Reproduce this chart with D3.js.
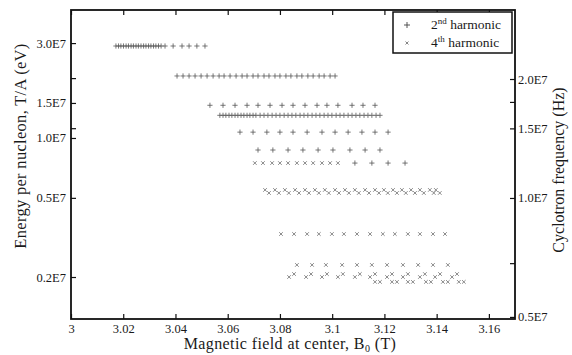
<!DOCTYPE html>
<html>
<head>
<meta charset="utf-8">
<script src="https://cdn.jsdelivr.net/npm/d3@7"></script>
<style>
  body { margin: 0; background: #fff; }
  text { font-family: "Liberation Serif", "DejaVu Serif", serif; fill: #1a1a1a; }
</style>
</head>
<body>
<div id="mydiv"></div>
<script>
// axis ticks
var xTicks = [3, 3.02, 3.04, 3.06, 3.08, 3.1, 3.12, 3.14, 3.16];
var xTickLabels = ["3", "3.02", "3.04", "3.06", "3.08", "3.1", "3.12", "3.14", "3.16"];
var energyTicks = [3.0e7, 1.5e7, 1.0e7, 0.5e7, 0.2e7];
var energyTickLabels = ["3.0E7", "1.5E7", "1.0E7", "0.5E7", "0.2E7"];
var energyMinorTicks = [2.0e7, 1.12e7];
var freqTicks = [2.0e7, 1.5e7, 1.0e7, 0.5e7];
var freqTickLabels = ["2.0E7", "1.5E7", "1.0E7", "0.5E7"];
var freqMinorTicks = [1.75e7, 0.684e7];

// 2nd harmonic rows (energy per nucleon, field values)
var row1E = 2.9e7;
var row1B = [3.0172, 3.0182, 3.0191, 3.0201, 3.0211, 3.0220, 3.0230, 3.0239, 3.0249, 3.0258,
  3.0268, 3.0278, 3.0287, 3.0297, 3.0306, 3.0316, 3.0325, 3.0335, 3.0345, 3.0360, 3.0391,
  3.0425, 3.0452, 3.0482, 3.0513];
var row2E = 2.05e7;
var row2B = [3.0406, 3.0429, 3.0452, 3.0475, 3.0498, 3.0521, 3.0544, 3.0567, 3.0586, 3.0609,
  3.0632, 3.0655, 3.0674, 3.0697, 3.0716, 3.0739, 3.0758, 3.0781, 3.0800, 3.0823, 3.0842,
  3.0865, 3.0884, 3.0907, 3.0927, 3.0950, 3.0969, 3.0992, 3.1011];
var row3E = 1.46e7;
var row3B = [3.0532, 3.0582, 3.0628, 3.0674, 3.0716, 3.0762, 3.0808, 3.0850, 3.0896, 3.0942,
  3.0980, 3.1022, 3.1076, 3.1118, 3.1164];
var row4E = 1.30e7;
var row4B = [3.0570, 3.0582, 3.0593, 3.0605, 3.0616, 3.0628, 3.0639, 3.0651, 3.0662, 3.0674,
  3.0685, 3.0697, 3.0708, 3.0724, 3.0739, 3.0754, 3.0770, 3.0785, 3.0800, 3.0816, 3.0831,
  3.0846, 3.0861, 3.0877, 3.0892, 3.0907, 3.0923, 3.0938, 3.0953, 3.0969, 3.0984, 3.0999,
  3.1015, 3.1030, 3.1045, 3.1061, 3.1076, 3.1091, 3.1106, 3.1122, 3.1137, 3.1152, 3.1168, 3.1183];
var row5E = 1.07e7;
var row5B = [3.0647, 3.0697, 3.0750, 3.0800, 3.0850, 3.0904, 3.0961, 3.1011, 3.1061, 3.1114,
  3.1164, 3.1214];
var row6E = 8.7e6;
var row6B = [3.0716, 3.0773, 3.0831, 3.0888, 3.0946, 3.1003, 3.1068, 3.1126, 3.1183];
var row7plusE = 7.48e6;
var row7plusB = [3.1087, 3.1152, 3.1214, 3.1279];

// 4th harmonic rows
var row7E = 7.48e6;
var row7B = [3.0704, 3.0735, 3.0770, 3.0800, 3.0831, 3.0865, 3.0896, 3.0927, 3.0961, 3.0992, 3.1022];
var row8aE = 5.48e6;
var row8aB = [3.0743, 3.0781, 3.0819, 3.0858, 3.0896, 3.0934, 3.0972, 3.1011, 3.1049, 3.1087,
  3.1126, 3.1164, 3.1198, 3.1233, 3.1267, 3.1302, 3.1336, 3.1374, 3.1397];
var row8bE = 5.29e6;
var row8bB = [3.0758, 3.0796, 3.0834, 3.0873, 3.0911, 3.0949, 3.0987, 3.1026, 3.1064, 3.1102,
  3.1141, 3.1179, 3.1213, 3.1248, 3.1282, 3.1317, 3.1351, 3.1389, 3.1412];
var row9E = 3.29e6;
var row9B = [3.0804, 3.0854, 3.0904, 3.0949, 3.0999, 3.1045, 3.1095, 3.1145, 3.1194, 3.1240,
  3.1290, 3.1336, 3.1386, 3.1432];
var row10E = 2.30e6;
var row10B = [3.0865, 3.0923, 3.0976, 3.1038, 3.1095, 3.1152, 3.1210, 3.1271, 3.1329, 3.1386, 3.1443];
var row11aE = 2.0e6;
var row11aB = [3.0835, 3.0900, 3.0961, 3.1022, 3.1087, 3.1145, 3.1210, 3.1271, 3.1336, 3.1394, 3.1459];
var row11bE = 2.07e6;
var row11bB = [3.0854, 3.0919, 3.0980, 3.1041, 3.1106, 3.1164, 3.1229, 3.1290, 3.1355, 3.1413, 3.1478];
var row12aE = 1.89e6;
var row12aB = [3.1164, 3.1229, 3.1290, 3.1359, 3.1424, 3.1485];
var row12bE = 1.89e6;
var row12bB = [3.1183, 3.1248, 3.1309, 3.1378, 3.1443, 3.1504];

function toPoints(e, bs) {
  return bs.map(function(b) { return {b: b, e: e}; });
}

var second = [].concat(
  toPoints(row1E, row1B), toPoints(row2E, row2B), toPoints(row3E, row3B),
  toPoints(row4E, row4B), toPoints(row5E, row5B), toPoints(row6E, row6B),
  toPoints(row7plusE, row7plusB));
var fourth = [].concat(
  toPoints(row7E, row7B), toPoints(row8aE, row8aB), toPoints(row8bE, row8bB),
  toPoints(row9E, row9B), toPoints(row10E, row10B), toPoints(row11aE, row11aB),
  toPoints(row11bE, row11bB), toPoints(row12aE, row12aB), toPoints(row12bE, row12bB));

var W = 572, H = 355;
var margin = {top: 10, right: 57, bottom: 36, left: 71};
var width = W - margin.left - margin.right,
    height = H - margin.top - margin.bottom;

var x = d3.scaleLinear().domain([3, 3.17]).range([0, width]);
var y = d3.scaleLog().domain([1.23e6, 4.4e7]).range([height, 0]);
var yr = d3.scaleLog().domain([4.94e6, 2.99e7]).range([height, 0]);

var svg = d3.select("#mydiv").append("svg")
    .attr("width", W)
    .attr("height", H)
    .style("background-color", "white")
  .append("g")
    .attr("transform", "translate(" + margin.left + "," + margin.top + ")");

var tickLen = 5;

// bottom axis (ticks point inward)
var xAxis = svg.append("g")
    .attr("transform", "translate(0," + height + ")")
    .call(d3.axisBottom(x).tickValues(xTicks)
      .tickFormat(function(d, i) { return xTickLabels[i]; })
      .tickSizeInner(-tickLen).tickSizeOuter(0).tickPadding(5));
xAxis.select(".domain").remove();
xAxis.selectAll("text").style("font-size", "12.5px");

// top ticks
svg.append("g")
    .call(d3.axisTop(x).tickValues(xTicks).tickFormat("").tickSizeInner(-tickLen).tickSizeOuter(0))
    .select(".domain").remove();

// left axis
var yAxis = svg.append("g")
    .call(d3.axisLeft(y).tickValues(energyTicks)
      .tickFormat(function(d, i) { return energyTickLabels[i]; })
      .tickSizeInner(-tickLen).tickSizeOuter(0).tickPadding(5));
yAxis.select(".domain").remove();
yAxis.selectAll("text").style("font-size", "12.5px");
svg.append("g")
    .call(d3.axisLeft(y).tickValues(energyMinorTicks).tickFormat("").tickSizeInner(-tickLen).tickSizeOuter(0))
    .select(".domain").remove();

// right axis
var yrAxis = svg.append("g")
    .attr("transform", "translate(" + width + ",0)")
    .call(d3.axisRight(yr).tickValues(freqTicks)
      .tickFormat(function(d, i) { return freqTickLabels[i]; })
      .tickSizeInner(-tickLen).tickSizeOuter(0).tickPadding(3));
yrAxis.select(".domain").remove();
yrAxis.selectAll("text").style("font-size", "12.5px");
svg.append("g")
    .attr("transform", "translate(" + width + ",0)")
    .call(d3.axisRight(yr).tickValues(freqMinorTicks).tickFormat("").tickSizeInner(-tickLen).tickSizeOuter(0))
    .select(".domain").remove();

svg.selectAll(".tick line").attr("stroke", "#111").attr("stroke-width", 1.2);

// frame
svg.append("rect")
    .attr("x", 0).attr("y", 0)
    .attr("width", width).attr("height", height)
    .attr("fill", "none")
    .attr("stroke", "#111")
    .attr("stroke-width", 1.8);

// markers
function plus(s) {
  return "M" + (-s) + ",0H" + s + "M0," + (-s) + "V" + s;
}
function cross(s) {
  return "M" + (-s) + "," + (-s) + "L" + s + "," + s + "M" + (-s) + "," + s + "L" + s + "," + (-s);
}

svg.selectAll(".second")
    .data(second)
    .enter().append("path")
    .attr("class", "second")
    .attr("transform", function(d) { return "translate(" + x(d.b) + "," + y(d.e) + ")"; })
    .attr("d", plus(2.6))
    .attr("stroke", "#555")
    .attr("stroke-width", 0.8)
    .attr("fill", "none");

svg.selectAll(".fourth")
    .data(fourth)
    .enter().append("path")
    .attr("class", "fourth")
    .attr("transform", function(d) { return "translate(" + x(d.b) + "," + y(d.e) + ")"; })
    .attr("d", cross(1.8))
    .attr("stroke", "#666")
    .attr("stroke-width", 0.75)
    .attr("fill", "none");

// legend
var lg = svg.append("g").attr("transform", "translate(" + (393 - margin.left) + "," + (12 - margin.top) + ")");
lg.append("rect")
    .attr("width", 119).attr("height", 41)
    .attr("fill", "white").attr("stroke", "#111").attr("stroke-width", 1.5);
lg.append("path").attr("transform", "translate(14,13)").attr("d", plus(3))
    .attr("stroke", "#444").attr("stroke-width", 0.9).attr("fill", "none");
lg.append("path").attr("transform", "translate(14,31)").attr("d", cross(1.5))
    .attr("stroke", "#666").attr("stroke-width", 0.8).attr("fill", "none");
var t1 = lg.append("text").attr("x", 38).attr("y", 17).style("font-size", "13.5px");
t1.append("tspan").text("2");
t1.append("tspan").attr("dy", -5).style("font-size", "9px").text("nd");
t1.append("tspan").attr("dy", 5).text(" harmonic");
var t2 = lg.append("text").attr("x", 38).attr("y", 35).style("font-size", "13.5px");
t2.append("tspan").text("4");
t2.append("tspan").attr("dy", -5).style("font-size", "9px").text("th");
t2.append("tspan").attr("dy", 5).text(" harmonic");

// axis titles
var xt = svg.append("text")
    .attr("x", 290 - margin.left).attr("y", 349 - margin.top)
    .attr("text-anchor", "middle")
    .style("font-size", "16px")
    .style("letter-spacing", "0.4px");
xt.append("tspan").text("Magnetic field at center, B");
xt.append("tspan").attr("dy", 3).style("font-size", "10px").text("0");
xt.append("tspan").attr("dy", -3).text(" (T)");

svg.append("text")
    .attr("transform", "translate(" + (26 - margin.left) + "," + (146 - margin.top) + ") rotate(-90)")
    .attr("text-anchor", "middle")
    .style("font-size", "16.5px")
    .style("letter-spacing", "0.3px")
    .text("Energy per nucleon, T/A (eV)");

svg.append("text")
    .attr("transform", "translate(" + (564 - margin.left) + "," + (170 - margin.top) + ") rotate(-90)")
    .attr("text-anchor", "middle")
    .style("font-size", "16px")
    .text("Cyclotron frequency (Hz)");
</script>
</body>
</html>
